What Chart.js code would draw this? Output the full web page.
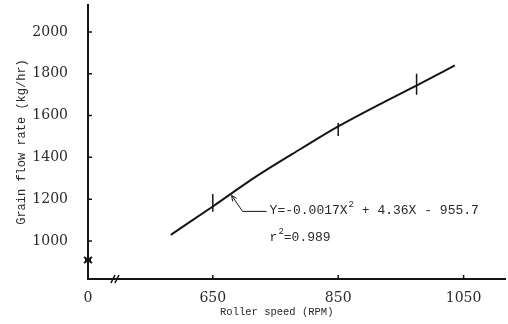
<!DOCTYPE html>
<html>
<head>
<meta charset="utf-8">
<title>Grain flow rate vs roller speed</title>
<script src="https://cdn.jsdelivr.net/npm/chart.js@4.4.1/dist/chart.umd.min.js"></script>
<style>
  html, body { margin: 0; padding: 0; background: #fff; }
  canvas { display: block; }
</style>
</head>
<body>
<canvas id="flow" width="508" height="324"></canvas>
<script>
// fitted curve (RPM, kg/hr)
const curveSpeed = [583, 650, 720, 790, 850, 920, 980, 1036];
const curveFlow = [1029, 1165, 1310, 1440, 1548, 1660, 1752, 1840];

// measured ranges at each test speed
const testSpeed = [650, 850, 975];
const flowLow = [1140, 1502, 1700];
const flowHigh = [1225, 1565, 1800];

const yTicks = [1000, 1200, 1400, 1600, 1800, 2000];
const xTicks = [650, 850, 1050];
const xStart = 451;   // broken axis: left end is labelled 0
const xEnd = 1116;
const yStart = 818;
const yEnd = 2129;

const curveData = curveSpeed.map((s, i) => ({ x: s, y: curveFlow[i] }));
const barData = [];
testSpeed.forEach((s, i) => {
  barData.push({ x: s, y: flowLow[i] }, { x: s, y: flowHigh[i] }, { x: s, y: null });
});

const ink = '#151515';
const textInk = '#2a2a2a';

// inward tick marks, axis break symbols, x title and the equation callout
const extras = {
  id: 'extras',
  afterDraw(chart) {
    const { ctx, chartArea: a } = chart;
    const xs = chart.scales.x, ys = chart.scales.y;
    ctx.save();
    ctx.strokeStyle = ink;
    ctx.lineWidth = 1.5;
    ctx.beginPath();
    yTicks.forEach(v => {
      const py = ys.getPixelForValue(v);
      ctx.moveTo(a.left, py);
      ctx.lineTo(a.left + 4, py);
    });
    xTicks.forEach(v => {
      const px = xs.getPixelForValue(v);
      ctx.moveTo(px, a.bottom);
      ctx.lineTo(px, a.bottom - 4);
    });
    ctx.stroke();

    // y-axis break
    const by = ys.getPixelForValue(909);
    ctx.lineWidth = 2;
    ctx.beginPath();
    ctx.moveTo(a.left - 4, by - 3); ctx.lineTo(a.left + 4, by + 3);
    ctx.moveTo(a.left - 4, by + 3); ctx.lineTo(a.left + 4, by - 3);
    ctx.moveTo(a.left - 3, by); ctx.lineTo(a.left + 3, by);
    ctx.stroke();

    // x-axis break
    const bx = xs.getPixelForValue(494);
    ctx.lineWidth = 1.6;
    ctx.beginPath();
    ctx.moveTo(bx - 4, a.bottom + 4); ctx.lineTo(bx, a.bottom - 4);
    ctx.moveTo(bx, a.bottom + 4); ctx.lineTo(bx + 4, a.bottom - 4);
    ctx.stroke();

    // callout arrow to the curve
    const ax = xs.getPixelForValue(680);
    const ay = ys.getPixelForValue(1218);
    ctx.lineWidth = 1;
    ctx.beginPath();
    ctx.moveTo(ax, ay);
    ctx.lineTo(ax + 11, ay + 16);
    ctx.lineTo(ax + 35, ay + 16);
    ctx.stroke();
    ctx.beginPath();
    ctx.moveTo(ax, ay);
    ctx.lineTo(ax + 1, ay + 6);
    ctx.moveTo(ax, ay);
    ctx.lineTo(ax + 5, ay + 3);
    ctx.stroke();

    ctx.fillStyle = textInk;
    ctx.textBaseline = 'middle';
    ctx.textAlign = 'left';
    const big = '13px "Liberation Mono"';
    const small = '9px "Liberation Mono"';
    let tx = ax + 38;
    const ty = ay + 15;
    ctx.font = big;
    ctx.fillText('Y=-0.0017X', tx, ty);
    tx += ctx.measureText('Y=-0.0017X').width + 1;
    ctx.font = small;
    ctx.fillText('2', tx, ty - 6);
    tx += ctx.measureText('2').width;
    ctx.font = big;
    ctx.fillText(' + 4.36X - 955.7', tx, ty);

    const ry = ay + 42;
    let rx = ax + 38;
    ctx.fillText('r', rx, ry);
    rx += ctx.measureText('r').width + 1;
    ctx.font = small;
    ctx.fillText('2', rx, ry - 6);
    rx += ctx.measureText('2').width;
    ctx.font = big;
    ctx.fillText('=0.989', rx, ry);

    // x axis title, set under the 650-850 span
    ctx.textAlign = 'center';
    ctx.font = '10.5px "Liberation Mono"';
    ctx.fillText('Roller speed (RPM)', xs.getPixelForValue(752), a.bottom + 33);
    ctx.restore();
  }
};

new Chart(document.getElementById('flow').getContext('2d'), {
  type: 'line',
  data: {
    datasets: [
      {
        data: curveData,
        borderColor: ink,
        borderWidth: 2,
        pointRadius: 0,
        cubicInterpolationMode: 'monotone'
      },
      {
        data: barData,
        borderColor: ink,
        borderWidth: 1.5,
        pointRadius: 0,
        spanGaps: false
      }
    ]
  },
  options: {
    responsive: false,
    animation: false,
    devicePixelRatio: 1,
    layout: { padding: { top: 5, right: 3, left: 0, bottom: 0 } },
    plugins: { legend: { display: false }, tooltip: { enabled: false } },
    scales: {
      x: {
        type: 'linear',
        min: xStart,
        max: xEnd,
        grid: { display: false },
        border: { display: true, color: ink, width: 2 },
        afterBuildTicks: s => { s.ticks = [xStart, ...xTicks].map(v => ({ value: v })); },
        afterFit: s => { s.height = 45; s.paddingLeft = 0; s.paddingRight = 0; },
        ticks: {
          padding: 3,
          color: textInk,
          font: { family: '"DejaVu Serif"', size: 14 },
          callback: v => (v === xStart ? '0' : String(v))
        }
      },
      y: {
        type: 'linear',
        min: yStart,
        max: yEnd,
        grid: { display: false },
        border: { display: true, color: ink, width: 2 },
        afterBuildTicks: s => { s.ticks = yTicks.map(v => ({ value: v })); },
        afterFit: s => { s.width = 88; s.paddingTop = 0; s.paddingBottom = 0; },
        ticks: {
          padding: 12,
          color: textInk,
          font: { family: '"DejaVu Serif"', size: 14 },
          callback: v => String(v)
        },
        title: {
          display: true,
          text: 'Grain flow rate (kg/hr)',
          color: textInk,
          font: { family: '"Liberation Mono"', size: 12 },
          padding: { top: 15, bottom: 0 }
        }
      }
    }
  },
  plugins: [extras]
});
</script>
</body>
</html>
